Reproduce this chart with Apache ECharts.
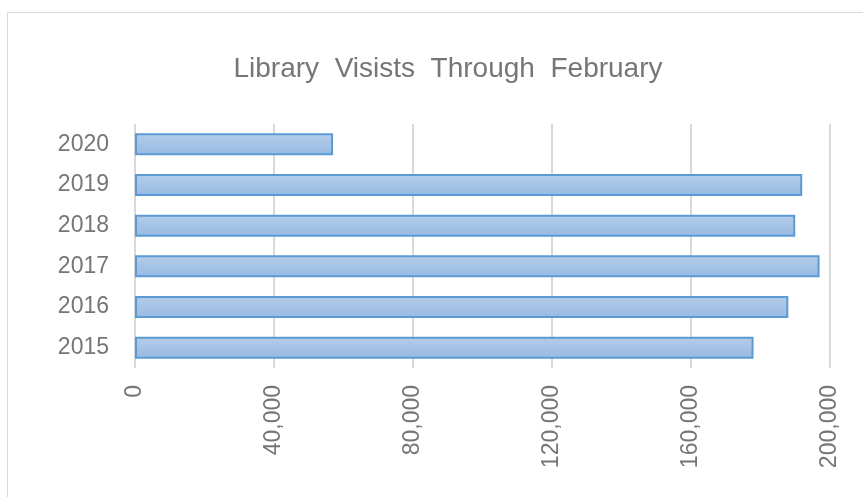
<!DOCTYPE html>
<html>
<head>
<meta charset="utf-8">
<script src="https://cdn.jsdelivr.net/npm/echarts@6/dist/echarts.min.js"></script>
<style>
  html, body { margin: 0; padding: 0; background: #fff; }
  #chart { width: 863px; height: 497px; }
</style>
</head>
<body>
<div id="chart"></div>
<script>
// data
const years = ['2015', '2016', '2017', '2018', '2019', '2020'];
const visits = [178000, 188000, 197000, 190000, 192000, 57000];
const xTicks = { min: 0, max: 200000, interval: 40000 };

const textGray = '#767676';
const gridGray = '#d9d9d9';

const chart = echarts.init(document.getElementById('chart'), null, { renderer: 'canvas' });

chart.setOption({
  animation: false,
  textStyle: { fontFamily: 'Liberation Sans' },
  graphic: [
    {
      type: 'rect',
      shape: { x: 7.5, y: 12.5, width: 900, height: 520 },
      style: { fill: 'none', stroke: gridGray, lineWidth: 1 },
      silent: true,
    },
  ],
  title: {
    text: 'Library  Visists  Through  February',
    left: 443,
    top: 50,
    textAlign: 'center',
    textStyle: { fontSize: 28, fontWeight: 'normal', color: textGray, fontFamily: 'Liberation Sans' },
  },
  grid: { left: 135, right: 33, top: 124, bottom: 129, containLabel: false },
  xAxis: {
    type: 'value',
    min: xTicks.min,
    max: xTicks.max,
    interval: xTicks.interval,
    axisLine: { show: false },
    axisTick: { show: false },
    splitLine: { show: true, lineStyle: { color: gridGray, width: 2 } },
    axisLabel: {
      rotate: 90,
      margin: 17,
      fontSize: 23,
      color: textGray,
      formatter: (v) => v.toLocaleString('en-US'),
    },
  },
  yAxis: {
    type: 'category',
    data: years,
    axisLine: { show: false },
    axisTick: { show: false },
    axisLabel: { margin: 26, fontSize: 23, color: textGray },
  },
  series: [
    {
      type: 'bar',
      data: visits,
      barCategoryGap: '46%',
      itemStyle: {
        color: new echarts.graphic.LinearGradient(0, 0, 0, 1, [
          { offset: 0, color: '#b5cdea' },
          { offset: 1, color: '#97b9e2' },
        ]),
        borderColor: '#5b9bd5',
        borderWidth: 2,
      },
    },
  ],
});
</script>
</body>
</html>
